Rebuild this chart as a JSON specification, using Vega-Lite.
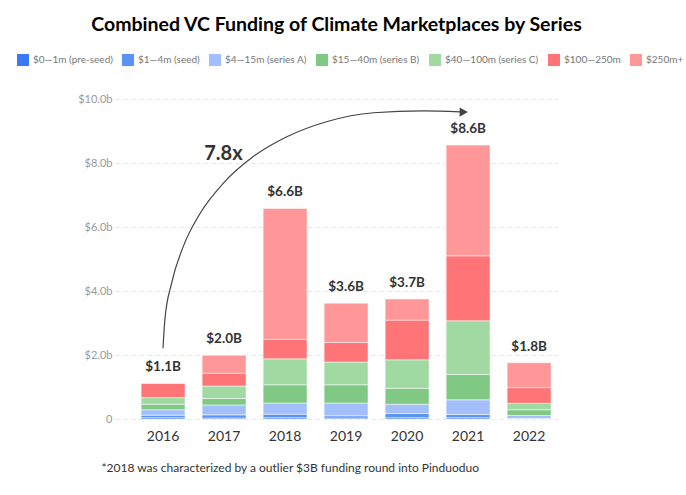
{
  "$schema": "https://vega.github.io/schema/vega-lite/v6.json",
  "width": 443,
  "height": 320,
  "autosize": "none",
  "padding": {"left": 115, "top": 99, "right": 128, "bottom": 76},
  "background": "white",
  "config": {
    "view": {"stroke": null},
    "font": "Lato",
    "legend": {
      "orient": "none",
      "legendX": -98,
      "legendY": -45,
      "direction": "horizontal",
      "symbolType": "square",
      "symbolSize": 144,
      "symbolStrokeWidth": 0,
      "symbolOpacity": 1,
      "labelFontSize": 10,
      "labelColor": "#777777",
      "labelFont": "Lato",
      "labelOffset": 4,
      "columnPadding": 9,
      "title": null
    }
  },
  "title": {
    "text": "Combined VC Funding of Climate Marketplaces by Series",
    "anchor": "middle",
    "font": "Lato",
    "fontSize": 19.5,
    "fontWeight": "bold",
    "color": "#000000",
    "offset": 19
  },
  "datasets": {
    "funding": [
      {"year": "2016", "series": "$0—1m (pre-seed)", "k": 1, "value": 0.04},
      {"year": "2016", "series": "$1—4m (seed)", "k": 2, "value": 0.08},
      {"year": "2016", "series": "$4—15m (series A)", "k": 3, "value": 0.17},
      {"year": "2016", "series": "$15—40m (series B)", "k": 4, "value": 0.17},
      {"year": "2016", "series": "$40—100m (series C)", "k": 5, "value": 0.21},
      {"year": "2016", "series": "$100—250m", "k": 6, "value": 0.45},
      {"year": "2016", "series": "$250m+", "k": 7, "value": 0},
      {"year": "2017", "series": "$0—1m (pre-seed)", "k": 1, "value": 0.03},
      {"year": "2017", "series": "$1—4m (seed)", "k": 2, "value": 0.10},
      {"year": "2017", "series": "$4—15m (series A)", "k": 3, "value": 0.31},
      {"year": "2017", "series": "$15—40m (series B)", "k": 4, "value": 0.20},
      {"year": "2017", "series": "$40—100m (series C)", "k": 5, "value": 0.39},
      {"year": "2017", "series": "$100—250m", "k": 6, "value": 0.40},
      {"year": "2017", "series": "$250m+", "k": 7, "value": 0.56},
      {"year": "2018", "series": "$0—1m (pre-seed)", "k": 1, "value": 0.04},
      {"year": "2018", "series": "$1—4m (seed)", "k": 2, "value": 0.11},
      {"year": "2018", "series": "$4—15m (series A)", "k": 3, "value": 0.35},
      {"year": "2018", "series": "$15—40m (series B)", "k": 4, "value": 0.57},
      {"year": "2018", "series": "$40—100m (series C)", "k": 5, "value": 0.81},
      {"year": "2018", "series": "$100—250m", "k": 6, "value": 0.61},
      {"year": "2018", "series": "$250m+", "k": 7, "value": 4.09},
      {"year": "2019", "series": "$0—1m (pre-seed)", "k": 1, "value": 0.03},
      {"year": "2019", "series": "$1—4m (seed)", "k": 2, "value": 0.07},
      {"year": "2019", "series": "$4—15m (series A)", "k": 3, "value": 0.40},
      {"year": "2019", "series": "$15—40m (series B)", "k": 4, "value": 0.57},
      {"year": "2019", "series": "$40—100m (series C)", "k": 5, "value": 0.71},
      {"year": "2019", "series": "$100—250m", "k": 6, "value": 0.61},
      {"year": "2019", "series": "$250m+", "k": 7, "value": 1.23},
      {"year": "2020", "series": "$0—1m (pre-seed)", "k": 1, "value": 0.04},
      {"year": "2020", "series": "$1—4m (seed)", "k": 2, "value": 0.13},
      {"year": "2020", "series": "$4—15m (series A)", "k": 3, "value": 0.29},
      {"year": "2020", "series": "$15—40m (series B)", "k": 4, "value": 0.50},
      {"year": "2020", "series": "$40—100m (series C)", "k": 5, "value": 0.89},
      {"year": "2020", "series": "$100—250m", "k": 6, "value": 1.24},
      {"year": "2020", "series": "$250m+", "k": 7, "value": 0.66},
      {"year": "2021", "series": "$0—1m (pre-seed)", "k": 1, "value": 0.04},
      {"year": "2021", "series": "$1—4m (seed)", "k": 2, "value": 0.10},
      {"year": "2021", "series": "$4—15m (series A)", "k": 3, "value": 0.46},
      {"year": "2021", "series": "$15—40m (series B)", "k": 4, "value": 0.79},
      {"year": "2021", "series": "$40—100m (series C)", "k": 5, "value": 1.68},
      {"year": "2021", "series": "$100—250m", "k": 6, "value": 2.03},
      {"year": "2021", "series": "$250m+", "k": 7, "value": 3.46},
      {"year": "2022", "series": "$0—1m (pre-seed)", "k": 1, "value": 0.01},
      {"year": "2022", "series": "$1—4m (seed)", "k": 2, "value": 0.01},
      {"year": "2022", "series": "$4—15m (series A)", "k": 3, "value": 0.09},
      {"year": "2022", "series": "$15—40m (series B)", "k": 4, "value": 0.18},
      {"year": "2022", "series": "$40—100m (series C)", "k": 5, "value": 0.20},
      {"year": "2022", "series": "$100—250m", "k": 6, "value": 0.49},
      {"year": "2022", "series": "$250m+", "k": 7, "value": 0.78}
    ],
    "totals": [
      {"year": "2016", "total": 1.12, "label": "$1.1B"},
      {"year": "2017", "total": 1.99, "label": "$2.0B"},
      {"year": "2018", "total": 6.58, "label": "$6.6B"},
      {"year": "2019", "total": 3.62, "label": "$3.6B"},
      {"year": "2020", "total": 3.75, "label": "$3.7B"},
      {"year": "2021", "total": 8.56, "label": "$8.6B"},
      {"year": "2022", "total": 1.76, "label": "$1.8B"}
    ],
    "arc": [
      {"pos": 0.0, "val": 2.21},
      {"pos": 0.03, "val": 3.09},
      {"pos": 0.14, "val": 4.24},
      {"pos": 0.33, "val": 5.38},
      {"pos": 0.61, "val": 6.43},
      {"pos": 0.99, "val": 7.37},
      {"pos": 1.48, "val": 8.20},
      {"pos": 2.03, "val": 8.82},
      {"pos": 2.68, "val": 9.29},
      {"pos": 3.45, "val": 9.57},
      {"pos": 4.27, "val": 9.63},
      {"pos": 4.87, "val": 9.60}
    ],
    "head": [{"pos": 4.93, "val": 9.59}],
    "note": [{"pos": 0.99, "val": 8.28, "text": "7.8x"}]
  },
  "layer": [
    {
      "layer": [
        {
          "data": {"name": "funding"},
          "mark": {"type": "bar", "stroke": "#ffffff", "strokeWidth": 1, "strokeOpacity": 0.5},
          "encoding": {
            "x": {
              "field": "year",
              "type": "nominal",
              "scale": {"paddingInner": 0.28, "paddingOuter": 0.271, "align": 0.79},
              "axis": {
                "labelAngle": 0,
                "labelFontSize": 14,
                "labelColor": "#333333",
                "labelFont": "Lato",
                "labelPadding": 10,
                "ticks": false,
                "domain": false,
                "title": "*2018 was characterized by a outlier $3B funding round into Pinduoduo",
                "titleFont": "Lato",
                "titleFontSize": 12,
                "titleFontWeight": "normal",
                "titleColor": "#333333",
                "titleAnchor": "start",
                "titleAlign": "left",
                "titleX": -14,
                "titleY": 48,
                "titleBaseline": "middle"
              }
            },
            "y": {
              "field": "value",
              "type": "quantitative",
              "stack": "zero",
              "scale": {"domain": [0, 10], "nice": false},
              "axis": {
                "values": [0, 2, 4, 6, 8, 10],
                "labelExpr": "datum.value == 0 ? '0' : '$' + format(datum.value, '.1f') + 'b'",
                "labelFontSize": 11,
                "labelColor": "#999999",
                "labelFont": "Lato",
                "labelPadding": 3,
                "ticks": false,
                "domain": false,
                "grid": true,
                "gridColor": "#e3e3e3",
                "gridDash": [4, 4],
                "title": null
              }
            },
            "color": {
              "field": "series",
              "type": "nominal",
              "scale": {
                "domain": ["$0—1m (pre-seed)", "$1—4m (seed)", "$4—15m (series A)", "$15—40m (series B)", "$40—100m (series C)", "$100—250m", "$250m+"],
                "range": ["#3a7af2", "#5b92f6", "#a2bffb", "#80c985", "#a1d9a2", "#ff7476", "#ff9798"]
              }
            },
            "order": {"field": "k", "type": "quantitative", "sort": "ascending"}
          }
        },
        {
          "data": {"name": "totals"},
          "mark": {"type": "text", "font": "Lato", "fontSize": 13.5, "fontWeight": "bold", "color": "#333333", "baseline": "alphabetic", "dy": -12},
          "encoding": {
            "x": {"field": "year", "type": "nominal"},
            "y": {"field": "total", "type": "quantitative"},
            "text": {"field": "label"}
          }
        }
      ]
    },
    {
      "data": {"name": "arc"},
      "mark": {"type": "line", "interpolate": "monotone", "color": "#444444", "strokeWidth": 1.2},
      "encoding": {
        "x": {"field": "pos", "type": "quantitative", "scale": {"domain": [-0.787, 6.475], "nice": false, "zero": false}, "axis": null},
        "y": {"field": "val", "type": "quantitative"}
      }
    },
    {
      "data": {"name": "head"},
      "mark": {"type": "point", "shape": "triangle-right", "filled": true, "size": 90, "color": "#444444", "opacity": 1},
      "encoding": {
        "x": {"field": "pos", "type": "quantitative", "scale": {"domain": [-0.787, 6.475], "nice": false, "zero": false}, "axis": null},
        "y": {"field": "val", "type": "quantitative"}
      }
    },
    {
      "data": {"name": "note"},
      "mark": {"type": "text", "font": "Lato", "fontSize": 20, "fontWeight": "bold", "color": "#333333", "baseline": "middle", "align": "center"},
      "encoding": {
        "x": {"field": "pos", "type": "quantitative", "scale": {"domain": [-0.787, 6.475], "nice": false, "zero": false}, "axis": null},
        "y": {"field": "val", "type": "quantitative"},
        "text": {"field": "text"}
      }
    }
  ],
  "resolve": {"scale": {"x": "independent"}}
}
